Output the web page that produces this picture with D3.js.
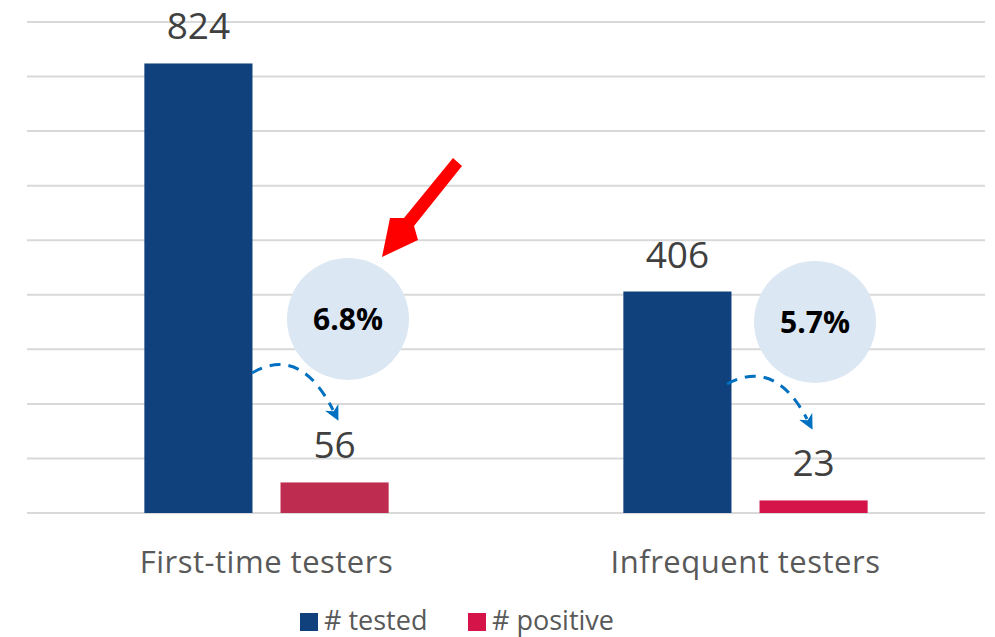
<!DOCTYPE html>
<html lang="en">
<head>
    <meta charset="UTF-8">
    <title>Testers</title>
    <script src="https://d3js.org/d3.v7.min.js"></script>
    <style>
        body { margin: 0; background: #fff; }
        text { font-family: "Open Sans", sans-serif; }
        .grid line { stroke: #d9d9d9; stroke-width: 2px; }
        .value { font-size: 37px; fill: #404040; text-anchor: middle; }
        .cat { font-size: 31px; fill: #595959; text-anchor: middle; letter-spacing: 0.5px; }
        .legend text { font-size: 27px; fill: #595959; }
        .pct { font-size: 30px; font-weight: bold; fill: #000; text-anchor: middle; }
    </style>
</head>
<body>
    <script>
        var categories = ["First-time testers", "Infrequent testers"];
        var series = ["# tested", "# positive"];
        var tested = [824, 406];
        var positive = [56, 23];
        var percents = ["6.8%", "5.7%"];
        var gridTicks = [0, 100, 200, 300, 400, 500, 600, 700, 800, 900];

        var width = 995, height = 637;
        var testedColor = "#10417d";
        var positiveColors = ["#be2c50", "#d5154a"];

        var svg = d3.select("body").append("svg")
            .attr("width", width)
            .attr("height", height);

        var y = d3.scaleLinear().domain([0, 900]).range([513, 22]);

        var x0 = d3.scaleBand().domain(categories).range([27, 985])
            .paddingInner(0.49).paddingOuter(0.245);
        var x1 = d3.scaleBand().domain(series).range([0, x0.bandwidth()])
            .paddingInner(0.206);

        svg.append("g").attr("class", "grid")
            .selectAll("line")
            .data(gridTicks)
            .enter().append("line")
            .attr("x1", 27).attr("x2", 985)
            .attr("y1", d => y(d)).attr("y2", d => y(d));

        var rows = categories.map((c, i) => ({
            cat: c, i: i,
            vals: [
                { key: series[0], v: tested[i], color: testedColor },
                { key: series[1], v: positive[i], color: positiveColors[i] }
            ]
        }));

        var groups = svg.selectAll(".group")
            .data(rows)
            .enter().append("g")
            .attr("class", "group")
            .attr("transform", d => `translate(${x0(d.cat)},0)`);

        groups.selectAll("rect")
            .data(d => d.vals)
            .enter().append("rect")
            .attr("x", d => x1(d.key))
            .attr("width", x1.bandwidth())
            .attr("y", d => y(d.v))
            .attr("height", d => y(0) - y(d.v))
            .attr("fill", d => d.color);

        groups.selectAll(".value")
            .data(d => d.vals)
            .enter().append("text")
            .attr("class", "value")
            .attr("x", d => x1(d.key) + x1.bandwidth() / 2)
            .attr("y", d => y(d.v) - 24)
            .text(d => d.v);

        svg.selectAll(".cat")
            .data(categories)
            .enter().append("text")
            .attr("class", "cat")
            .attr("x", d => x0(d) + x0.bandwidth() / 2)
            .attr("y", 573)
            .text(d => d);

        // percent bubbles
        var bubbles = [{ cx: 348, cy: 319 }, { cx: 815, cy: 322 }];
        svg.selectAll(".bubble")
            .data(bubbles)
            .enter().append("circle")
            .attr("cx", d => d.cx).attr("cy", d => d.cy).attr("r", 61)
            .attr("fill", "#dce7f4");
        svg.selectAll(".pct")
            .data(bubbles)
            .enter().append("text")
            .attr("class", "pct")
            .attr("x", d => d.cx).attr("y", d => d.cy + 11)
            .text((d, i) => percents[i]);

        // dashed curved arrows
        var defs = svg.append("defs");
        defs.append("marker")
            .attr("id", "ah")
            .attr("viewBox", "0 0 10 10")
            .attr("refX", 2).attr("refY", 5)
            .attr("markerUnits", "userSpaceOnUse")
            .attr("markerWidth", 15).attr("markerHeight", 15)
            .attr("orient", "auto")
            .append("path").attr("d", "M0,0 L10,5 L0,10 L3,5 Z")
            .attr("fill", "#0070c0");

        var arcs = [
            "M252,373 Q300,345 333,410",
            "M727,384 Q775,358 807,419"
        ];
        svg.selectAll(".arc")
            .data(arcs)
            .enter().append("path")
            .attr("d", d => d)
            .attr("fill", "none")
            .attr("stroke", "#0070c0")
            .attr("stroke-width", 3)
            .attr("stroke-dasharray", "11,8")
            .attr("marker-end", "url(#ah)");

        // red arrow
        svg.append("path")
            .attr("d", "M453,158 L462,166 L414,226 L418,240 L382,257 L390,218 L404,218 Z")
            .attr("fill", "#ff0000");

        // legend
        var legend = svg.append("g").attr("class", "legend");
        var legendItems = [
            { label: series[0], color: testedColor, x: 300 },
            { label: series[1], color: positiveColors[1], x: 468 }
        ];
        legendItems.forEach(function(d) {
            legend.append("rect")
                .attr("x", d.x).attr("y", 613)
                .attr("width", 18).attr("height", 18)
                .attr("fill", d.color);
            legend.append("text")
                .attr("x", d.x + 24).attr("y", 630)
                .text(d.label);
        });
    </script>
</body>
</html>
